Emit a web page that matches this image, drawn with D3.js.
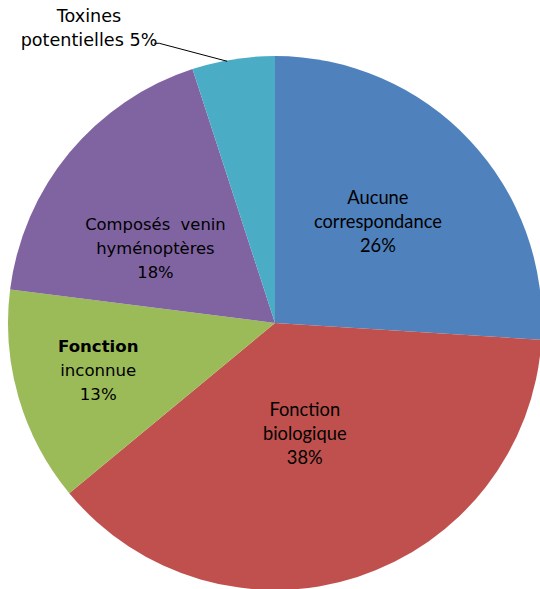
<!DOCTYPE html>
<html>
<head>
<meta charset="utf-8">
<script src="https://cdn.jsdelivr.net/npm/d3@7"></script>
<style>
  body { margin: 0; background: #fff; }
  svg { display: block; }
</style>
</head>
<body>
<div id="chart"></div>
<script>
// slices, clockwise from 12 o'clock
var categories = ["Aucune correspondance", "Fonction biologique", "Fonction inconnue", "Composés venin hyménoptères", "Toxines potentielles"];
var values = [26, 38, 13, 18, 5];
var labelLines = [
    ["Aucune", "correspondance", "26%"],
    ["Fonction", "biologique", "38%"],
    ["Fonction", "inconnue", "13%"],
    ["Composés\u00a0 venin", "hyménoptères", "18%"],
    ["Toxines", "potentielles 5%"]
];
var colors = ["#4F81BD", "#C0504D", "#9BBB59", "#8064A2", "#4BACC6"];

function main() {
    var width = 540, height = 589;
    var cx = 275, cy = 323, radius = 267;

    var svg = d3.select("#chart")
        .append("svg")
        .attr("width", width)
        .attr("height", height)

    var g = svg.append("g")
        .attr("transform", "translate(" + cx + "," + cy + ")")

    var data = categories.map((c, i) => ({ name: c, value: values[i], lines: labelLines[i], color: colors[i] }))

    var pie = d3.pie()
        .value(d => d.value)
        .sort(null)

    var arc = d3.arc()
        .innerRadius(0)
        .outerRadius(radius)

    var arcs = pie(data)

    g.selectAll("path.slice")
        .data(arcs)
        .enter()
        .append("path")
        .attr("class", "slice")
        .attr("d", arc)
        .style("fill", d => d.data.color)
        .style("stroke", "none")

    // Excel "best fit" label placement: radius and angle nudge per label
    var labelRadius = [144, 115, 183, 141]
    var angleShift = [-1.2, 3, 1.2, -7.6]
    var fonts = [
        { family: "Lato, 'Open Sans', sans-serif", size: 18.3 },
        { family: "Lato, 'Open Sans', sans-serif", size: 18.3 },
        { family: "'DejaVu Sans', sans-serif", size: 16.6 },
        { family: "'DejaVu Sans', sans-serif", size: 16.4 }
    ]

    arcs.slice(0, 4).forEach((a, i) => {
        var mid = (a.startAngle + a.endAngle) / 2 + angleShift[i] * Math.PI / 180
        var x = labelRadius[i] * Math.sin(mid)
        var y = -labelRadius[i] * Math.cos(mid)
        var t = g.append("text")
            .attr("text-anchor", "middle")
            .attr("font-family", fonts[i].family)
            .attr("font-size", fonts[i].size)
            .attr("fill", "#000")
        a.data.lines.forEach((line, j) => {
            t.append("tspan")
                .attr("x", x)
                .attr("y", y + (j - 1) * 24 + 6)
                .style("font-weight", (i == 2 && j == 0) ? "bold" : "normal")
                .text(line)
        })
    })

    // outside label for the small slice, with leader line
    var small = arcs[4]
    var edge = d3.arc().innerRadius(radius).outerRadius(radius).centroid(small)
    var tx = 89 - cx, ty = 22 - cy
    g.append("path")
        .attr("d", d3.line()([[edge[0] - 6, edge[1] + 2], [edge[0] - 74, edge[1] - 16], [edge[0] - 79, edge[1] - 16]]))
        .style("fill", "none")
        .style("stroke", "#000")
        .style("stroke-width", 1)

    var t5 = g.append("text")
        .attr("text-anchor", "middle")
        .attr("font-family", "'DejaVu Sans', sans-serif")
        .attr("font-size", 17.6)
        .attr("fill", "#000")
    small.data.lines.forEach((line, j) => {
        t5.append("tspan")
            .attr("x", tx)
            .attr("y", ty + j * 24)
            .text(line)
    })
}

main();
</script>
</body>
</html>
